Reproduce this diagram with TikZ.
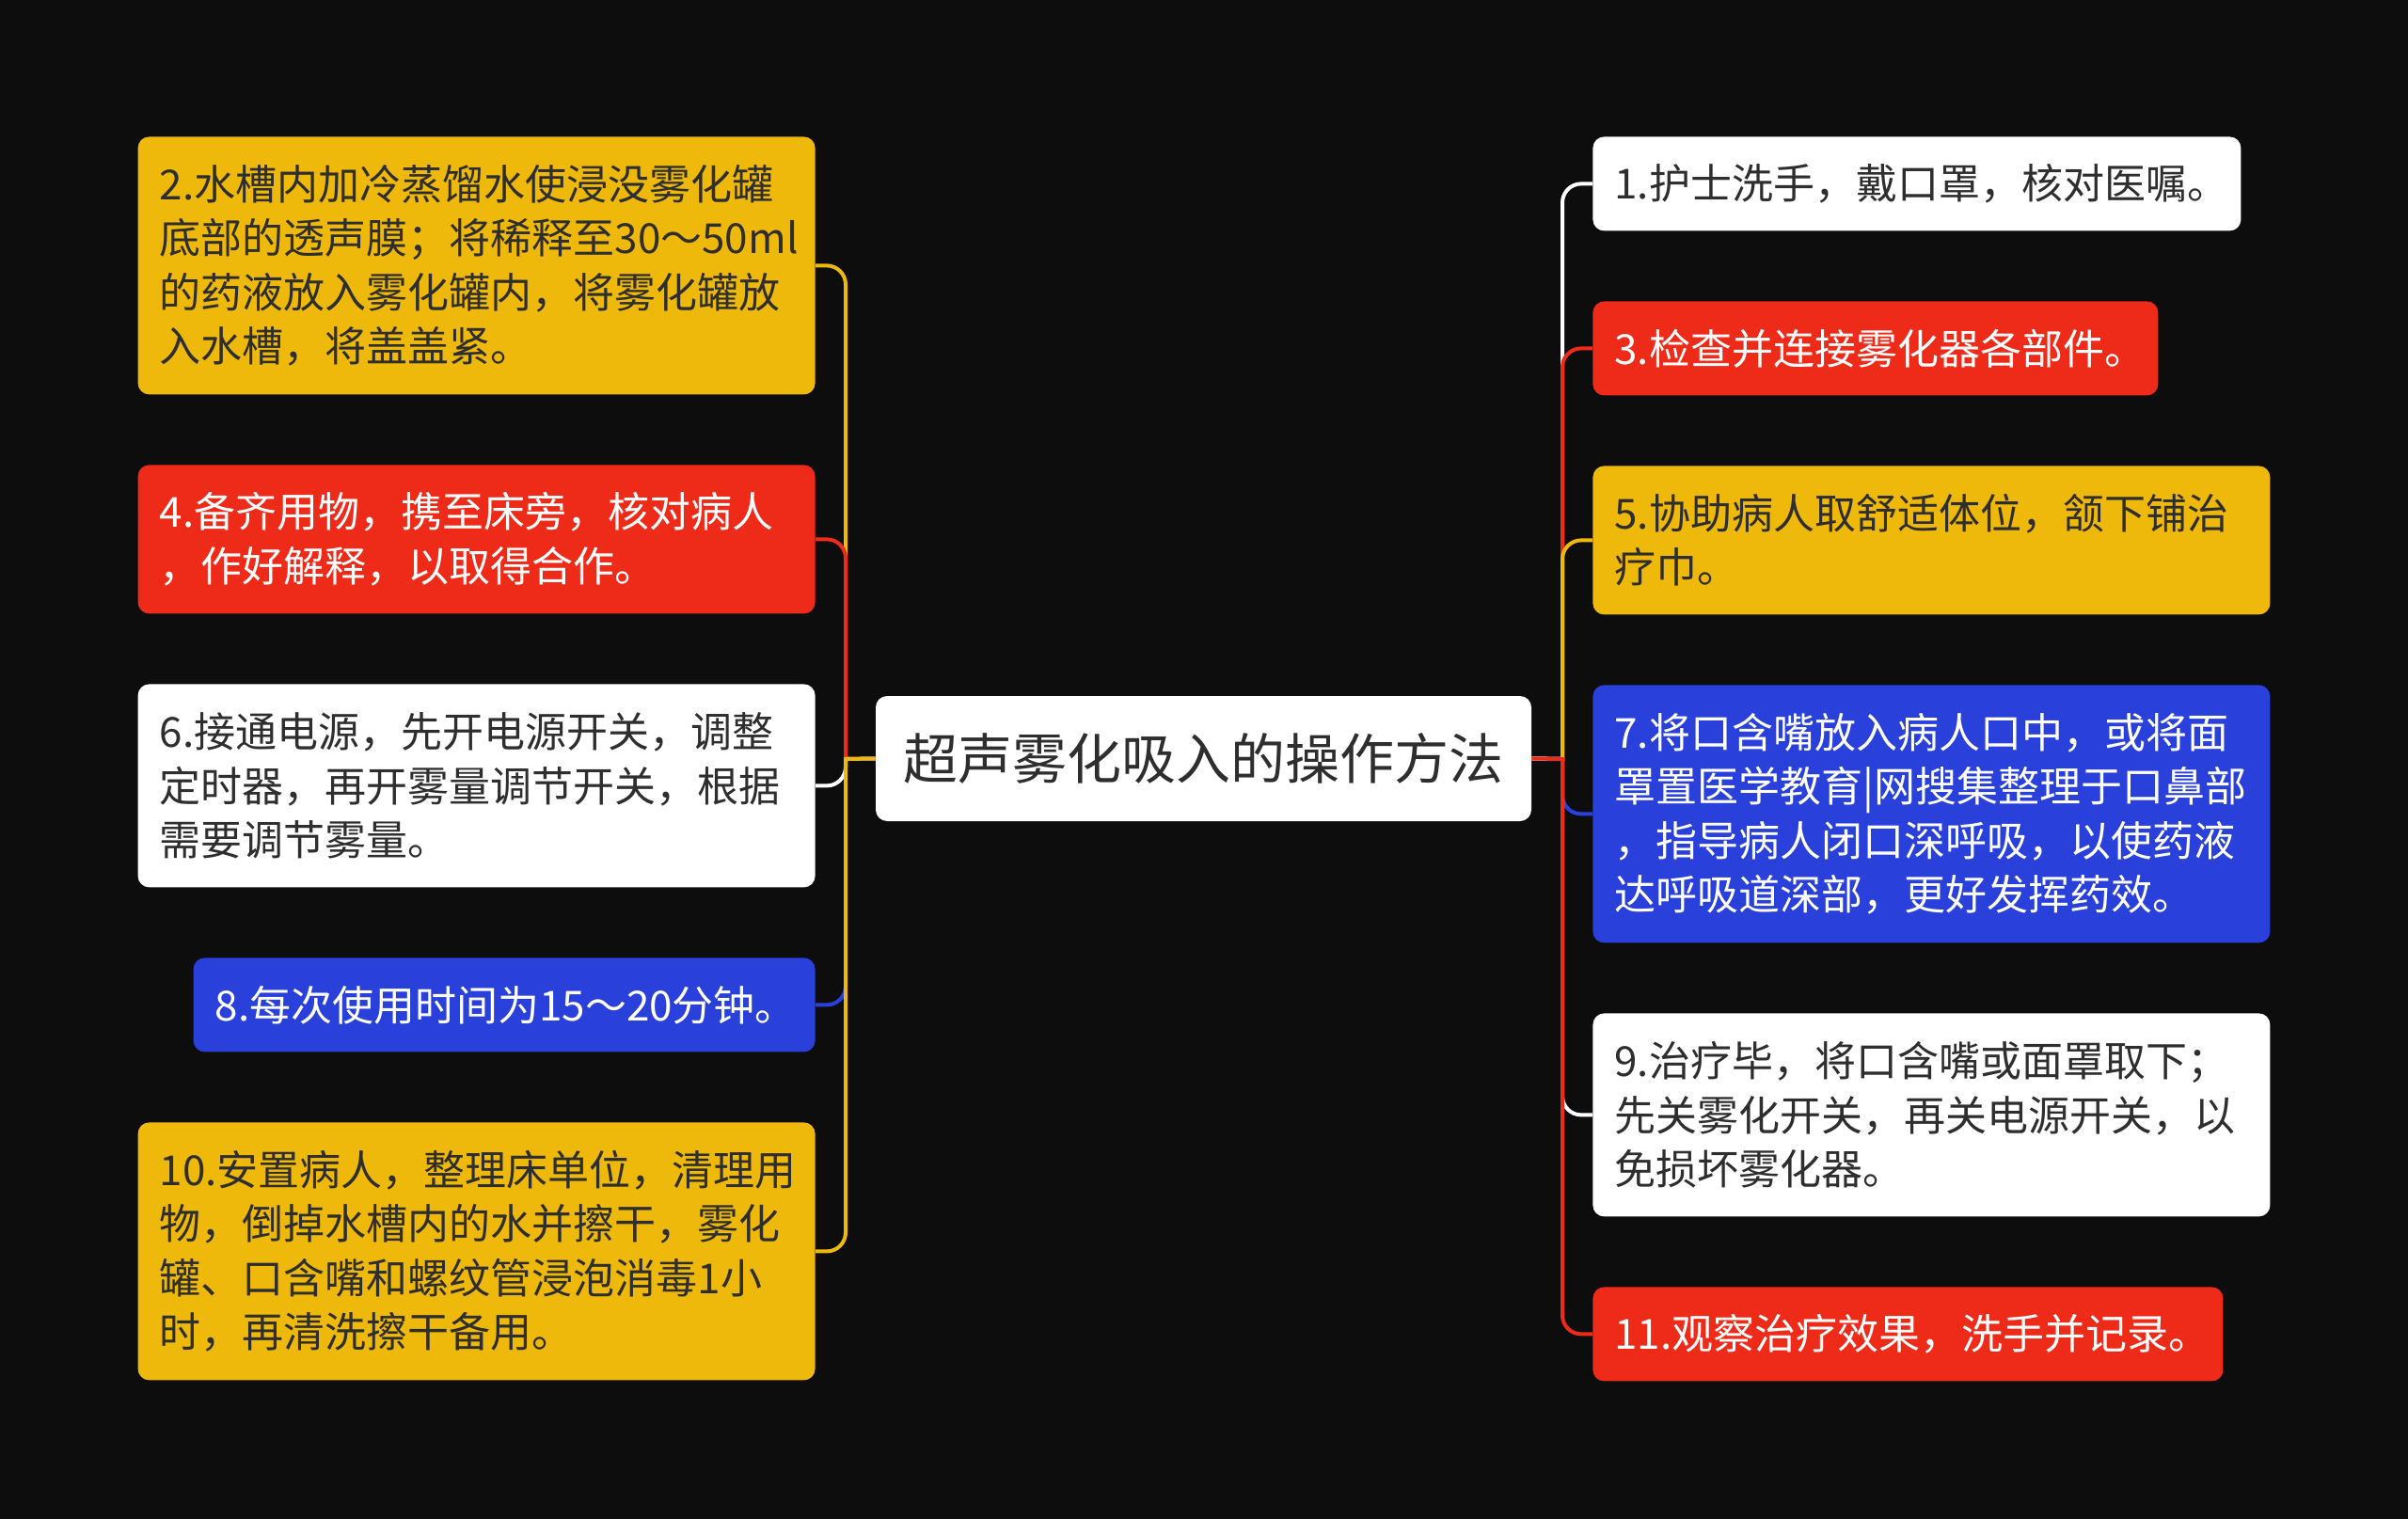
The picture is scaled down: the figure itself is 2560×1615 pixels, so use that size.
\documentclass[tikz,border=0pt]{standalone}
\usepackage{fontspec}
\setmainfont{Noto Sans CJK SC}
\usepackage{tikz}
\usepackage{xcolor}
\definecolor{bgdark}{HTML}{0D0D0D}
\definecolor{mmyellow}{HTML}{EFB90C}
\definecolor{mmred}{HTML}{EE2A19}
\definecolor{mmblue}{HTML}{2940DA}
\definecolor{mmtext}{HTML}{2E2E2E}

\begin{document}
\begin{tikzpicture}[
  x=0.5pt, y=-0.5pt,
  every node/.style={font=\fontsize{22pt}{28.75pt}\selectfont},
  leaf/.style={rectangle, rounded corners=6pt, inner xsep=11.5pt, inner ysep=0pt, align=left},
  nlines/.style={minimum height={21pt+29pt*#1}},
  yelbox/.style={leaf, fill=mmyellow, text=mmtext},
  redbox/.style={leaf, fill=mmred, text=white},
  bluebox/.style={leaf, fill=mmblue, text=white},
  whitebox/.style={leaf, fill=white, text=mmtext},
  titlebox/.style={rectangle, rounded corners=6pt, fill=white, text=mmtext, inner sep=0pt,
    minimum width=348.5pt, minimum height=66.5pt, font=\fontsize{29pt}{35pt}\selectfont},
  link/.style={line width=2pt}
]
% Canvas
\fill[bgdark] (0,0) rectangle (2560,1615);
\useasboundingbox (0,0) rectangle (2560,1615);

% Central topic
\node[titlebox] (root) at (1279.5,806.5) {超声雾化吸入的操作方法};
\coordinate (lt) at (899,807);
\coordinate (rt) at (1661,807);

% Left branch
\node[yelbox, nlines=4, text width=337pt, anchor=north east] (s2) at (867,145)
  {2.水槽内加冷蒸馏水使浸没雾化罐\\底部的透声膜；将稀释至30～50ml\\的药液放入雾化罐内，将雾化罐放\\入水槽，将盖盖紧。};
\node[redbox, nlines=2, text width=337pt, anchor=north east] (s4) at (867,494)
  {4.备齐用物，携至床旁，核对病人\\，作好解释，以取得合作。};
\node[whitebox, nlines=3, text width=337pt, anchor=north east] (s6) at (867,727)
  {6.接通电源，先开电源开关，调整\\定时器，再开雾量调节开关，根据\\需要调节雾量。};
\node[bluebox, nlines=1, text width=307.5pt, anchor=north east] (s8) at (867,1018)
  {8.每次使用时间为15～20分钟。};
\node[yelbox, nlines=4, text width=337pt, anchor=north east] (s10) at (867,1193)
  {10.安置病人，整理床单位，清理用\\物，倒掉水槽内的水并擦干，雾化\\罐、口含嘴和螺纹管浸泡消毒1小\\时，再清洗擦干备用。};

% Right branch
\node[whitebox, nlines=1, text width=321.5pt, anchor=north west] (s1) at (1693,145)
  {1.护士洗手，戴口罩，核对医嘱。};
\node[redbox, nlines=1, text width=277.5pt, anchor=north west] (s3) at (1693,320)
  {3.检查并连接雾化器各部件。};
\node[yelbox, nlines=2, text width=337pt, anchor=north west] (s5) at (1693,495)
  {5.协助病人取舒适体位，颔下铺治\\疗巾。};
\node[bluebox, nlines=4, text width=337pt, anchor=north west] (s7) at (1693,728)
  {7.将口含嘴放入病人口中，或将面\\罩置医学教育|网搜集整理于口鼻部\\，指导病人闭口深呼吸，以使药液\\达呼吸道深部，更好发挥药效。};
\node[whitebox, nlines=3, text width=337pt, anchor=north west] (s9) at (1693,1077)
  {9.治疗毕，将口含嘴或面罩取下；\\先关雾化开关，再关电源开关，以\\免损坏雾化器。};
\node[redbox, nlines=1, text width=312pt, anchor=north west] (s11) at (1693,1368)
  {11.观察治疗效果，洗手并记录。};

% Connectors
\foreach \n/\c in {s2/mmyellow, s4/mmred, s6/white, s8/mmblue, s10/mmyellow} {
  \draw[link, \c] (root.west) -- (lt) [rounded corners=10pt] -- (lt |- \n.east) -- (\n.east);
}
\foreach \n/\c in {s1/white, s3/mmred, s5/mmyellow, s7/mmblue, s9/white, s11/mmred} {
  \draw[link, \c] (root.east) -- (rt) [rounded corners=10pt] -- (rt |- \n.west) -- (\n.west);
}

\end{tikzpicture}
\end{document}
